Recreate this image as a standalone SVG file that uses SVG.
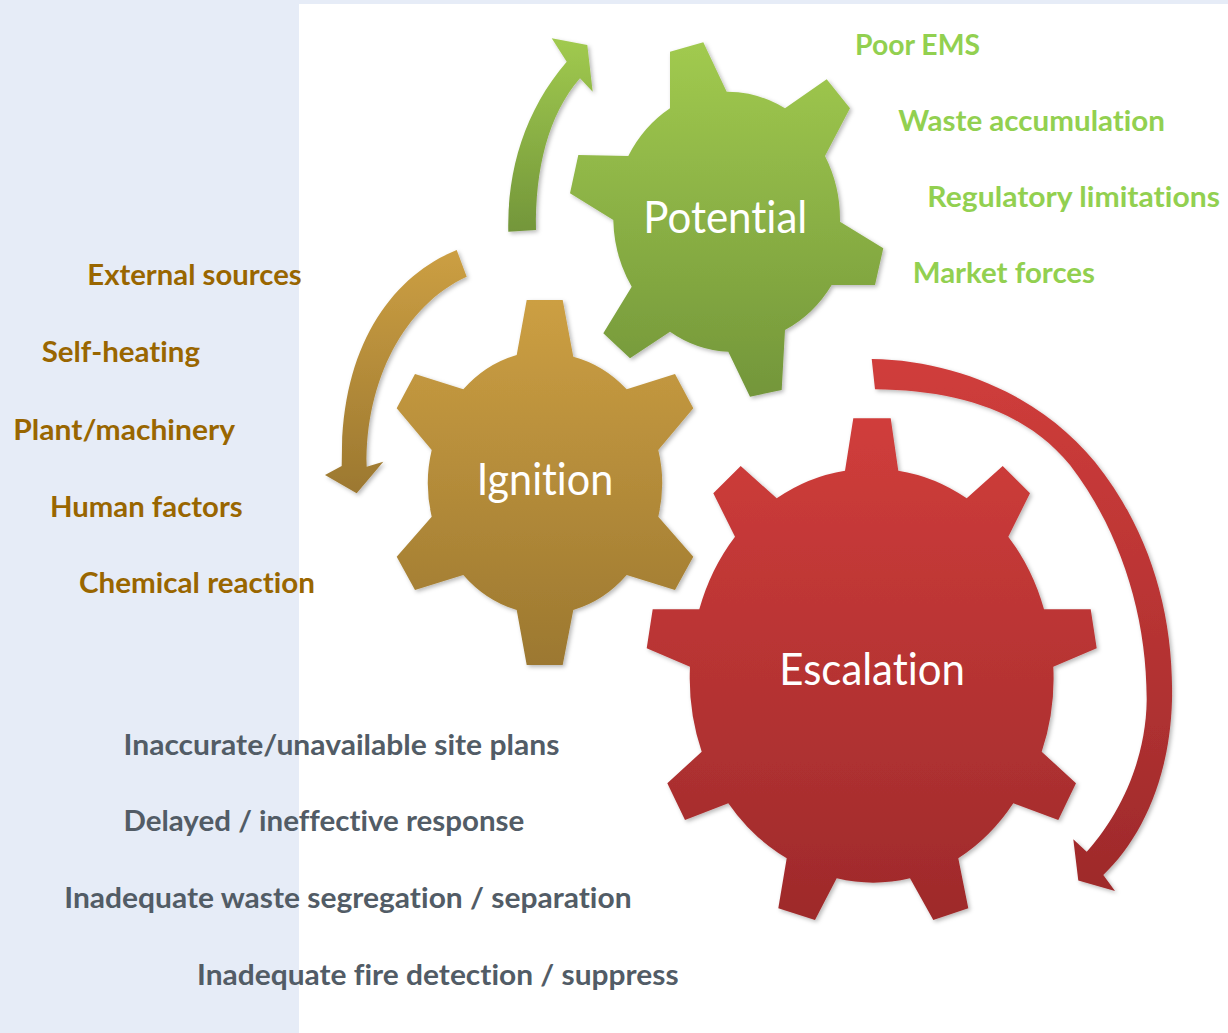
<svg xmlns="http://www.w3.org/2000/svg" width="1228" height="1033" viewBox="0 0 1228 1033">
  <style>
    .lbl { font-family: Lato, "Open Sans", "Liberation Sans", sans-serif; font-weight: 700; font-size: 28px; font-variant-ligatures: none; }
    .g-lbl { fill: #92D050; }
    .b-lbl { fill: #996600; }
    .k-lbl { fill: #525C66; }
    .gear-txt { font-family: Lato, "Open Sans", "Liberation Sans", sans-serif; font-weight: 400; font-size: 44px; fill: #FFFFFF; font-variant-ligatures: none; font-feature-settings: "liga" 0, "dlig" 0, "clig" 0; }
  </style>
  <defs>
    <linearGradient id="gradGreen" x1="0" y1="0" x2="0" y2="1">
      <stop offset="0" stop-color="#A1CA4F"/>
      <stop offset="1" stop-color="#73963A"/>
    </linearGradient>
    <linearGradient id="gradOchre" x1="0" y1="0" x2="0" y2="1">
      <stop offset="0" stop-color="#CC9F43"/>
      <stop offset="1" stop-color="#9C7830"/>
    </linearGradient>
    <linearGradient id="gradRed" x1="0" y1="0" x2="0" y2="1">
      <stop offset="0" stop-color="#D03D3B"/>
      <stop offset="1" stop-color="#9E2A2B"/>
    </linearGradient>
    <filter id="softShadow" x="-10%" y="-10%" width="120%" height="120%">
      <feDropShadow dx="2" dy="2" stdDeviation="2" flood-color="#000000" flood-opacity="0.28"/>
    </filter>
  </defs>

  <!-- backdrop: pale blue page with white panel -->
  <rect x="0" y="0" width="1228" height="1033" fill="#E6ECF7"/>
  <rect x="299" y="4" width="929" height="1029" fill="#FFFFFF"/>

  <!-- curved rotation arrows -->
  <g id="connectors" filter="url(#softShadow)">
    <path id="arrow-potential" fill="url(#gradGreen)"
      d="M 508.3,231.7 C 507,170 525,110 566.7,61.7 L 551.7,38.3 L 587.3,45 L 592.7,91.7 L 580,78.3 C 548,115 535,170 536,230 Z"/>
    <path id="arrow-ignition" fill="url(#gradOchre)"
      d="M 456.7,250 C 395,275 345,340 342,446.7 L 341.7,466 L 325,475 L 356.7,493.3 L 383.3,461.7 L 366.7,466.7 C 365,380 405,305 466.7,276.7 Z"/>
    <path id="arrow-escalation" fill="url(#gradRed)"
      d="M 871.7,359 C 960,360 1045,400 1095,462 C 1148,528 1174,610 1172,700 C 1170,780 1140,840 1103.3,875 L 1115,891 L 1078.3,880.4 L 1073.3,839.3 L 1086.7,851.8 C 1120,815 1146,760 1146.7,700 C 1147,615 1120,530 1070,465 C 1025,410 955,390 875,389.3 Z"/>
  </g>

  <!-- Potential gear -->
  <g id="node-potential">
    <path fill="url(#gradGreen)" filter="url(#softShadow)"
      d="M 670,108.3 L 670,51.7 L 703.3,42.3 L 726.7,91.7
         A 118 130 0 0 1 785,108.3 L 826.7,79.3 L 850,108.3 L 825,156
         A 118 130 0 0 1 840,221.7 L 883.3,248.3 L 875,285 L 831.7,285
         A 118 130 0 0 1 785,330 L 781.7,390 L 750,396.7 L 728.3,351.7
         A 118 130 0 0 1 670,331.7 L 630,358.3 L 603.3,333.3 L 631.7,286.7
         A 118 130 0 0 1 613.3,220 L 570,193.3 L 578.3,155 L 628.3,156
         A 118 130 0 0 1 670,108.3 Z"/>
    <text class="gear-txt" x="643.3" y="233.3" textLength="164" lengthAdjust="spacingAndGlyphs">Potential</text>
  </g>

  <!-- Ignition gear -->
  <g id="node-ignition">
    <path fill="url(#gradOchre)" filter="url(#softShadow)"
      d="M 516.7,355 L 526.7,300 L 562.7,300 L 573.3,356.7
         A 116 130 0 0 1 626.7,389.3 L 675,374 L 693.3,408.3 L 658.3,450
         A 116 130 0 0 1 658.3,516.7 L 693.3,556.7 L 675,590 L 626.7,575
         A 116 130 0 0 1 573.3,610 L 562.7,665 L 526.7,665 L 516.7,610
         A 116 130 0 0 1 463.3,575 L 415,590 L 396.7,556.7 L 431.7,516.7
         A 116 130 0 0 1 431.7,450 L 396.7,408.3 L 415,374 L 463.3,389.3
         A 116 130 0 0 1 516.7,355 Z"/>
    <text class="gear-txt" x="476.7" y="495" textLength="136.6" lengthAdjust="spacingAndGlyphs">Ignition</text>
  </g>

  <!-- Escalation gear -->
  <g id="node-escalation">
    <path fill="url(#gradRed)" filter="url(#softShadow)"
      d="M 845,470.7 L 853.3,418.3 L 890.7,418.3 L 898.3,470.7
         A 180 205 0 0 1 966.7,498.3 L 1002.7,466 L 1030,493.3 L 1008.3,536.7
         A 180 205 0 0 1 1044,609.3 L 1090.7,609.3 L 1096.7,648.3 L 1053.3,666.7
         A 180 205 0 0 1 1041.7,751.7 L 1076,783.3 L 1058.3,820 L 1013.3,803.3
         A 180 205 0 0 1 958.3,858.3 L 968.3,908.3 L 933.3,920 L 910,878.3
         A 180 205 0 0 1 836.7,878.3 L 815,920 L 778.3,908.3 L 786.7,858.3
         A 180 205 0 0 1 728.3,803.3 L 685,820 L 667.3,783.3 L 701.7,751.7
         A 180 205 0 0 1 690,666.7 L 646.7,648.3 L 652.7,609.3 L 699.3,609.3
         A 180 205 0 0 1 735,536.7 L 713.3,493.3 L 740.7,466 L 776.7,498.3
         A 180 205 0 0 1 845,470.7 Z"/>
    <text class="gear-txt" x="779.3" y="685" font-size="46" textLength="185.7" lengthAdjust="spacingAndGlyphs">Escalation</text>
  </g>

  <!-- Potential factors -->
  <g id="labels-potential" class="lbl g-lbl">
    <text x="855" y="55" textLength="125" lengthAdjust="spacingAndGlyphs">Poor EMS</text>
    <text x="898.3" y="131" textLength="266.7" lengthAdjust="spacingAndGlyphs">Waste accumulation</text>
    <text x="927.3" y="206.7" textLength="292.7" lengthAdjust="spacingAndGlyphs">Regulatory limitations</text>
    <text x="912.7" y="283.3" textLength="182.3" lengthAdjust="spacingAndGlyphs">Market forces</text>
  </g>

  <!-- Ignition factors -->
  <g id="labels-ignition" class="lbl b-lbl">
    <text x="87.3" y="285" textLength="214.4" lengthAdjust="spacingAndGlyphs">External sources</text>
    <text x="41.7" y="361.7" textLength="158.3" lengthAdjust="spacingAndGlyphs">Self-heating</text>
    <text x="13.3" y="440" textLength="221.7" lengthAdjust="spacingAndGlyphs">Plant/machinery</text>
    <text x="50" y="516.7" textLength="192.7" lengthAdjust="spacingAndGlyphs">Human factors</text>
    <text x="79" y="593.3" textLength="236" lengthAdjust="spacingAndGlyphs">Chemical reaction</text>
  </g>

  <!-- Escalation factors -->
  <g id="labels-escalation" class="lbl k-lbl">
    <text x="123.5" y="755" textLength="435.9" lengthAdjust="spacingAndGlyphs">Inaccurate/unavailable site plans</text>
    <text x="123.5" y="831" textLength="400.8" lengthAdjust="spacingAndGlyphs">Delayed / ineffective response</text>
    <text x="64.3" y="908.3" textLength="567.3" lengthAdjust="spacingAndGlyphs">Inadequate waste segregation / separation</text>
    <text x="197" y="985" textLength="481.6" lengthAdjust="spacingAndGlyphs">Inadequate fire detection / suppress</text>
  </g>
</svg>
